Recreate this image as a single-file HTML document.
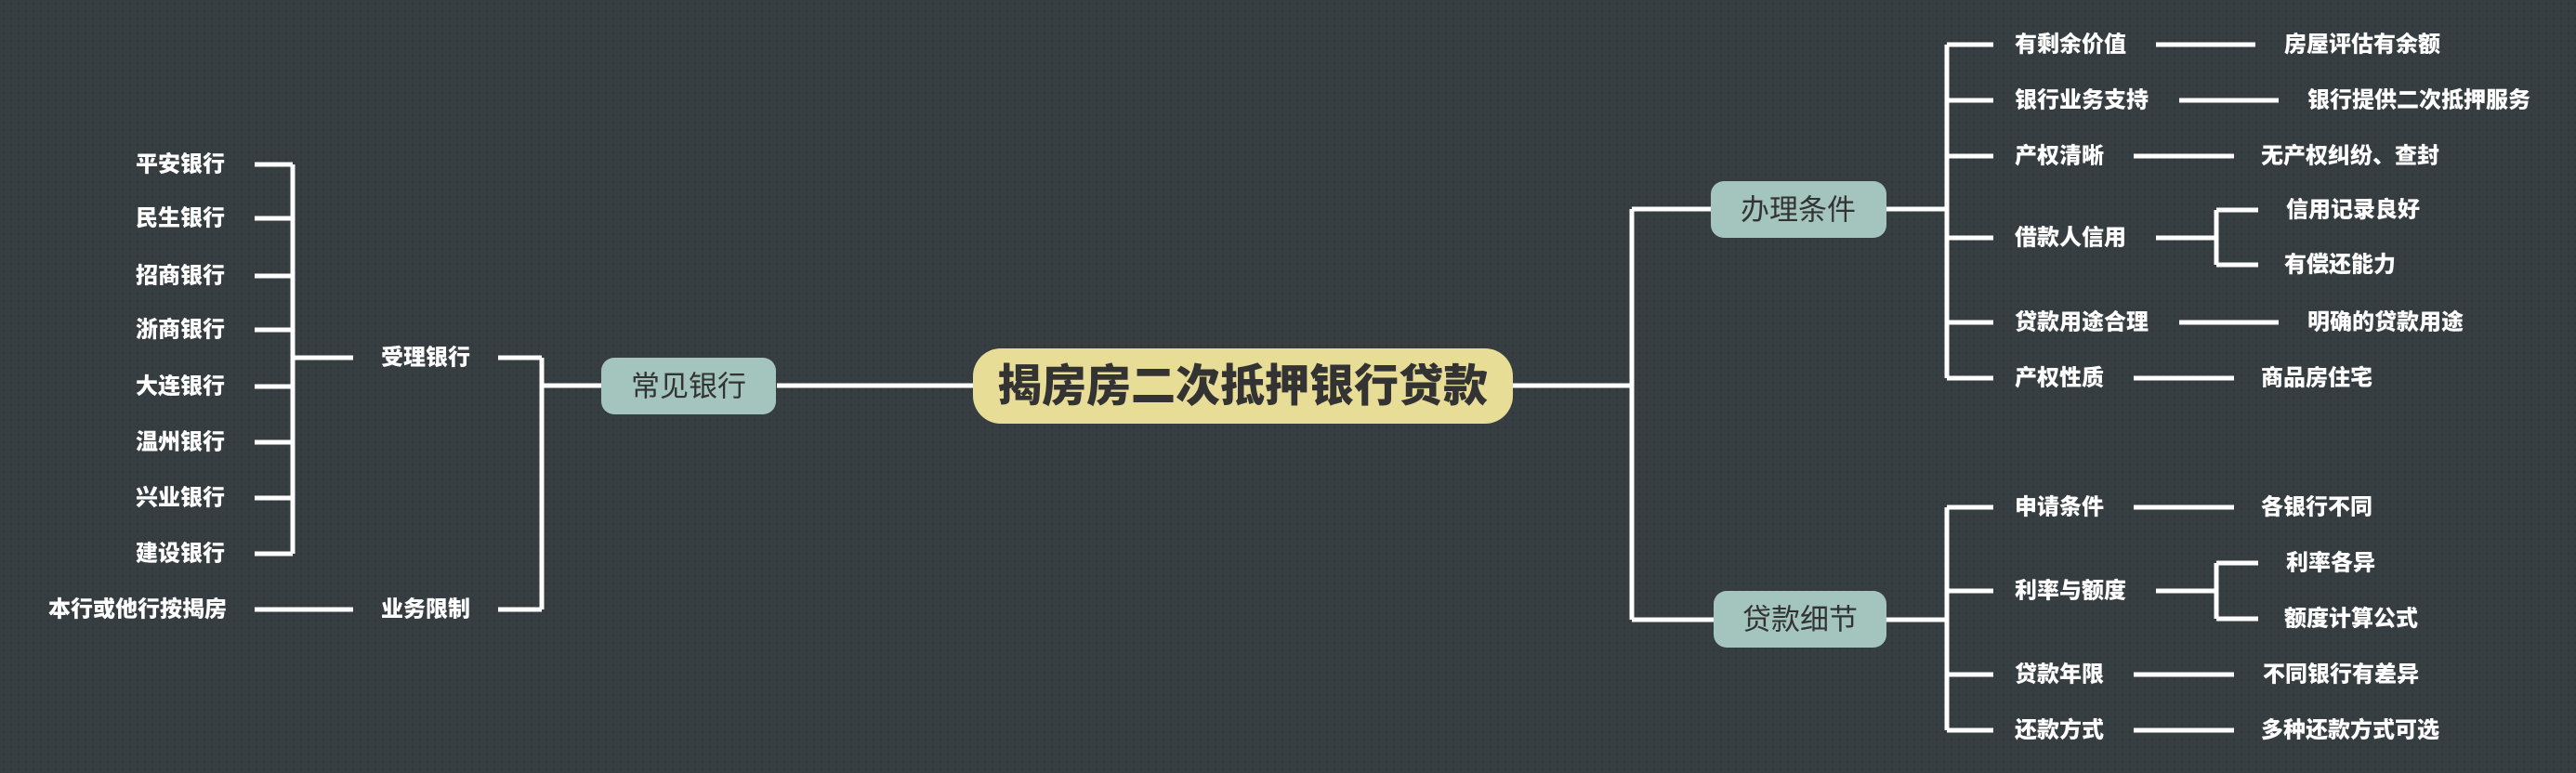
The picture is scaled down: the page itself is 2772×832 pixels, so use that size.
<!DOCTYPE html>
<html><head><meta charset="utf-8"><style>
html,body{margin:0;padding:0;width:2772px;height:832px;overflow:hidden;background:#373e41;}
svg{display:block}
text{font-family:"Liberation Sans","Noto Sans CJK SC",sans-serif;}
.t{font-size:24px;font-weight:900;fill:#fff;dominant-baseline:central;}
</style></head><body>
<svg width="2772" height="832" xmlns="http://www.w3.org/2000/svg">
<defs><pattern id="d" width="8" height="8" patternUnits="userSpaceOnUse"><rect x="3" y="3" width="2" height="2" fill="#30363a"/></pattern></defs>
<rect width="2772" height="832" fill="#373e41"/>
<rect width="2772" height="832" fill="url(#d)"/>
<g stroke="#fff" stroke-width="5" fill="none">
<path d="M836 415H1050M1625 415H1756"/>
<path d="M583 385V656M536 385H583M536 656H583M583 415H647"/>
<path d="M380 385H315M315 177V596"/>
<path d="M274 177H315M274 235H315M274 297H315M274 355H315M274 416H315M274 476H315M274 536H315M274 596H315"/>
<path d="M274 656H380"/>
<path d="M1756 225V667M1756 225H1841M1756 667H1844"/>
<path d="M2030 225H2095M2095 48V407"/>
<path d="M2095 48H2145M2095 108H2145M2095 168H2145M2095 256H2145M2095 347H2145M2095 407H2145"/>
<path d="M2320 48H2427M2345 108H2452M2296 168H2404M2320 256H2385M2385 226V285M2385 226H2430M2385 285H2430M2345 347H2452M2296 407H2404"/>
<path d="M2030 667H2095M2095 546V786"/>
<path d="M2095 546H2145M2095 636H2145M2095 726H2145M2095 786H2145"/>
<path d="M2296 546H2404M2320 636H2385M2385 606V666M2385 606H2430M2385 666H2430M2296 726H2404M2296 786H2404"/>
</g>
<rect x="1047" y="375" width="581" height="81" rx="30" fill="#e8dd97"/>
<text x="1337" y="416" text-anchor="middle" dominant-baseline="central" font-size="48" font-weight="900" fill="#333">揭房房二次抵押银行贷款</text>
<rect x="647" y="385" width="188" height="61" rx="14" fill="#a4c5bd"/>
<text x="741" y="416" text-anchor="middle" dominant-baseline="central" font-size="31" fill="#333">常见银行</text>
<rect x="1841" y="195" width="189" height="61" rx="14" fill="#a4c5bd"/>
<text x="1935" y="226" text-anchor="middle" dominant-baseline="central" font-size="31" fill="#333">办理条件</text>
<rect x="1844" y="636" width="186" height="61" rx="14" fill="#a4c5bd"/>
<text x="1937" y="667" text-anchor="middle" dominant-baseline="central" font-size="31" fill="#333">贷款细节</text>
<text class="t" x="242" y="177" text-anchor="end">平安银行</text>
<text class="t" x="242" y="235" text-anchor="end">民生银行</text>
<text class="t" x="242" y="297" text-anchor="end">招商银行</text>
<text class="t" x="242" y="355" text-anchor="end">浙商银行</text>
<text class="t" x="242" y="416" text-anchor="end">大连银行</text>
<text class="t" x="242" y="476" text-anchor="end">温州银行</text>
<text class="t" x="242" y="536" text-anchor="end">兴业银行</text>
<text class="t" x="242" y="596" text-anchor="end">建设银行</text>
<text class="t" x="244" y="656" text-anchor="end">本行或他行按揭房</text>
<text class="t" x="458" y="385" text-anchor="middle">受理银行</text>
<text class="t" x="458" y="656" text-anchor="middle">业务限制</text>
<text class="t" x="2168" y="48">有剩余价值</text>
<text class="t" x="2458" y="48">房屋评估有余额</text>
<text class="t" x="2168" y="108">银行业务支持</text>
<text class="t" x="2483" y="108">银行提供二次抵押服务</text>
<text class="t" x="2168" y="168">产权清晰</text>
<text class="t" x="2433" y="168">无产权纠纷、查封</text>
<text class="t" x="2168" y="256">借款人信用</text>
<text class="t" x="2460" y="226">信用记录良好</text>
<text class="t" x="2458" y="285">有偿还能力</text>
<text class="t" x="2168" y="347">贷款用途合理</text>
<text class="t" x="2483" y="347">明确的贷款用途</text>
<text class="t" x="2168" y="407">产权性质</text>
<text class="t" x="2433" y="407">商品房住宅</text>
<text class="t" x="2168" y="546">申请条件</text>
<text class="t" x="2433" y="546">各银行不同</text>
<text class="t" x="2168" y="636">利率与额度</text>
<text class="t" x="2460" y="606">利率各异</text>
<text class="t" x="2458" y="666">额度计算公式</text>
<text class="t" x="2168" y="726">贷款年限</text>
<text class="t" x="2435" y="726">不同银行有差异</text>
<text class="t" x="2168" y="786">还款方式</text>
<text class="t" x="2433" y="786">多种还款方式可选</text>
</svg>
</body></html>
